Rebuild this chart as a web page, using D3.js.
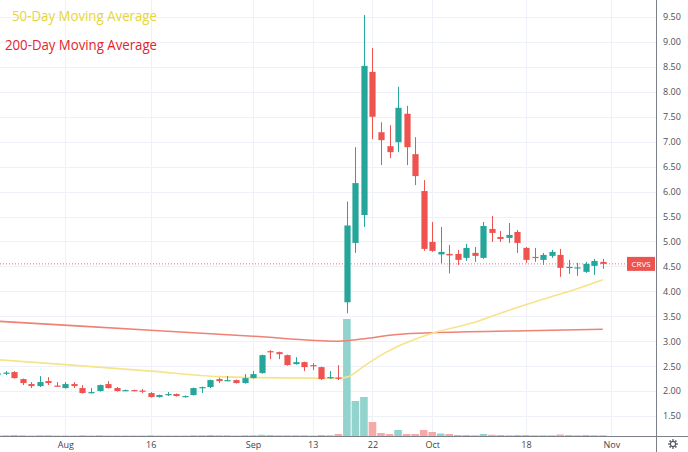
<!DOCTYPE html>
<html>
<head>
<meta charset="utf-8">
<script src="https://cdn.jsdelivr.net/npm/d3@7"></script>
<style>
  body { margin: 0; background: #fff; }
  svg { display: block; font-family: "Open Sans", sans-serif; }
</style>
</head>
<body>
<svg id="chart" width="688" height="452"></svg>
<script>
// trading days shown (Jul 21 .. Oct 29, 2021)
const dates = [
  "2021-07-21", "2021-07-22", "2021-07-23", "2021-07-26", "2021-07-27", "2021-07-28", "2021-07-29", "2021-07-30",
  "2021-08-02", "2021-08-03", "2021-08-04", "2021-08-05", "2021-08-06", "2021-08-09", "2021-08-10", "2021-08-11",
  "2021-08-12", "2021-08-13", "2021-08-16", "2021-08-17", "2021-08-18", "2021-08-19", "2021-08-20", "2021-08-23",
  "2021-08-24", "2021-08-25", "2021-08-26", "2021-08-27", "2021-08-30", "2021-08-31", "2021-09-01", "2021-09-02",
  "2021-09-03", "2021-09-07", "2021-09-08", "2021-09-09", "2021-09-10", "2021-09-13", "2021-09-14", "2021-09-15",
  "2021-09-16", "2021-09-17", "2021-09-20", "2021-09-21", "2021-09-22", "2021-09-23", "2021-09-24", "2021-09-27",
  "2021-09-28", "2021-09-29", "2021-09-30", "2021-10-01", "2021-10-04", "2021-10-05", "2021-10-06", "2021-10-07",
  "2021-10-08", "2021-10-11", "2021-10-12", "2021-10-13", "2021-10-14", "2021-10-15", "2021-10-18", "2021-10-19",
  "2021-10-20", "2021-10-21", "2021-10-22", "2021-10-25", "2021-10-26", "2021-10-27", "2021-10-28", "2021-10-29"
];

const opens = [
  2.32, 2.35, 2.38, 2.24, 2.14, 2.10, 2.20, 2.11, 2.06, 2.14, 2.06, 1.96, 2.00, 2.14, 2.06, 2.01,
  2.02, 2.01, 1.96, 1.88, 1.93, 1.94, 1.88, 1.92, 2.06, 2.08, 2.24, 2.21, 2.22, 2.16, 2.26, 2.36,
  2.80, 2.78, 2.72, 2.54, 2.58, 2.52, 2.48, 2.26, 2.27, 3.78, 4.97, 5.53, 8.40, 7.19, 6.91, 6.99,
  7.56, 6.75, 6.01, 4.99, 4.74, 4.75, 4.75, 4.67, 4.77, 4.67, 5.25, 5.09, 5.07, 5.19, 4.87, 4.69,
  4.63, 4.71, 4.73, 4.47, 4.46, 4.39, 4.51, 4.59
];
const highs = [
  2.38, 2.40, 2.40, 2.25, 2.18, 2.30, 2.28, 2.18, 2.18, 2.18, 2.12, 2.06, 2.13, 2.20, 2.08, 2.03,
  2.03, 2.04, 1.98, 1.93, 1.98, 1.95, 1.91, 2.07, 2.09, 2.23, 2.27, 2.30, 2.23, 2.34, 2.40, 2.73,
  2.82, 2.79, 2.73, 2.68, 2.59, 2.56, 2.49, 2.40, 2.52, 5.80, 6.89, 9.54, 8.88, 7.39, 7.33, 8.10,
  7.72, 7.09, 6.23, 5.39, 5.29, 4.93, 4.83, 4.95, 4.89, 5.39, 5.51, 5.21, 5.37, 5.23, 4.89, 4.87,
  4.77, 4.83, 4.85, 4.63, 4.57, 4.59, 4.65, 4.65
];
const lows = [
  2.30, 2.32, 2.25, 2.12, 2.06, 2.08, 2.12, 2.09, 2.05, 2.06, 1.95, 1.95, 1.99, 2.05, 1.99, 2.00,
  2.00, 1.96, 1.87, 1.87, 1.90, 1.89, 1.87, 1.91, 1.96, 2.06, 2.16, 2.20, 2.15, 2.15, 2.25, 2.35,
  2.64, 2.64, 2.51, 2.53, 2.40, 2.42, 2.22, 2.25, 2.22, 3.56, 4.77, 5.29, 7.05, 6.53, 6.67, 6.79,
  6.53, 6.13, 4.81, 4.79, 4.56, 4.36, 4.53, 4.61, 4.59, 4.65, 4.99, 4.99, 4.97, 4.77, 4.57, 4.59,
  4.53, 4.67, 4.29, 4.35, 4.31, 4.37, 4.33, 4.45
];
const closes = [
  2.36, 2.37, 2.26, 2.16, 2.10, 2.18, 2.16, 2.10, 2.14, 2.10, 1.96, 1.98, 2.12, 2.06, 2.00, 2.02,
  2.01, 1.99, 1.88, 1.92, 1.94, 1.90, 1.90, 2.06, 2.08, 2.22, 2.20, 2.22, 2.16, 2.26, 2.34, 2.72,
  2.78, 2.74, 2.52, 2.58, 2.48, 2.50, 2.24, 2.28, 2.25, 5.32, 6.17, 8.52, 7.50, 7.03, 6.79, 7.68,
  6.89, 6.31, 4.85, 4.81, 4.79, 4.72, 4.63, 4.87, 4.71, 5.31, 5.17, 5.05, 5.13, 4.97, 4.63, 4.67,
  4.73, 4.79, 4.47, 4.49, 4.48, 4.55, 4.61, 4.55
];
// volume, millions of shares
const volumes = [
  0.3, 0.3, 0.4, 0.3, 0.2, 0.3, 0.3, 0.2, 0.2, 0.2, 0.3, 0.2, 0.3, 0.2, 0.2, 0.2,
  0.2, 0.2, 0.3, 0.2, 0.2, 0.2, 0.2, 0.3, 0.3, 0.4, 0.3, 0.3, 0.2, 0.3, 0.3, 0.5,
  0.4, 0.3, 0.3, 0.3, 0.3, 0.2, 0.4, 0.3, 0.8, 46.8, 14.0, 15.6, 5.6, 1.2, 0.8, 2.4,
  0.8, 0.8, 2.4, 1.6, 1.0, 0.8, 0.4, 0.4, 0.3, 0.8, 0.5, 0.4, 0.3, 0.4, 0.4, 0.3,
  0.3, 0.3, 0.6, 0.4, 0.3, 0.4, 0.3, 0.3
];

// moving averages, read at sample days
const ma50Dates = ["2021-07-21", "2021-08-02", "2021-08-16", "2021-08-26", "2021-09-01", "2021-09-13", "2021-09-16",
  "2021-09-17", "2021-09-21", "2021-09-23", "2021-09-27", "2021-09-29", "2021-10-01", "2021-10-08", "2021-10-14",
  "2021-10-20", "2021-10-26", "2021-10-29"];
const ma50Values = [2.63, 2.53, 2.40, 2.29, 2.27, 2.26, 2.26, 2.28, 2.50, 2.72, 2.90, 3.04, 3.16, 3.38, 3.62, 3.84, 4.05, 4.23];
const ma200Dates = ["2021-07-21", "2021-08-16", "2021-09-01", "2021-09-16", "2021-09-17", "2021-09-20", "2021-09-22",
  "2021-09-24", "2021-09-28", "2021-10-01", "2021-10-18", "2021-10-29"];
const ma200Values = [3.40, 3.22, 3.10, 3.00, 3.01, 3.03, 3.07, 3.12, 3.15, 3.17, 3.21, 3.24];

const priceTicks = [1.5, 2, 2.5, 3, 3.5, 4, 4.5, 5, 5.5, 6, 6.5, 7, 7.5, 8, 8.5, 9, 9.5];
const timeTickDates = ["2021-08-02", "2021-08-16", "2021-09-01", "2021-09-13", "2021-09-22", "2021-10-01", "2021-10-18", "2021-11-01"];
const timeTickLabels = ["Aug", "16", "Sep", "13", "22", "Oct", "18", "Nov"];
const symbol = "CRVS";

const up = "#26a69a", down = "#ef5350";
const upVol = "#92d3cd", downVol = "#f7a9a7";

const svg = d3.select("#chart");
const W = 688, H = 452, plotR = 656, plotB = 436;

// index of a day on the time scale; Nov 1 is the next session after the last bar
const idx = d => { const i = dates.indexOf(d); return i < 0 ? dates.length : i; };

const x = d3.scaleLinear().domain([0, dates.length]).range([-2.84, 611.3]);
const y = d3.scaleLinear().domain([1.5, 9.5]).range([416, 17]);
const yVol = d3.scaleLinear().domain([0, d3.max(volumes)]).range([plotB, 319]);

const bars = dates.map((d, i) => ({
  i, o: opens[i], h: highs[i], l: lows[i], c: closes[i], v: volumes[i]
}));

svg.append("rect").attr("width", W).attr("height", H).attr("fill", "#fff");

const plot = svg.append("g");
plot.append("clipPath").attr("id", "clip")
  .append("rect").attr("width", plotR).attr("height", plotB);

// grid
const grid = plot.append("g").attr("stroke", "#eef1f7").attr("stroke-width", 1);
grid.selectAll("line.h").data(priceTicks).join("line")
  .attr("class", "h")
  .attr("x1", 0).attr("x2", plotR)
  .attr("y1", d => Math.round(y(d)) + 0.5).attr("y2", d => Math.round(y(d)) + 0.5);
grid.selectAll("line.v").data(timeTickDates).join("line")
  .attr("class", "v")
  .attr("y1", 0).attr("y2", plotB)
  .attr("x1", d => Math.round(x(idx(d))) + 0.5).attr("x2", d => Math.round(x(idx(d))) + 0.5);

const body = plot.append("g").attr("clip-path", "url(#clip)");

// volume
const bw = 7.6;
body.append("g").selectAll("rect").data(bars).join("rect")
  .attr("x", d => x(d.i) - bw / 2)
  .attr("width", bw)
  .attr("y", d => yVol(d.v))
  .attr("height", d => plotB - yVol(d.v))
  .attr("fill", d => d.c >= d.o ? upVol : downVol);

// moving averages
const line = d3.line().curve(d3.curveMonotoneX);
body.append("path")
  .attr("d", line(ma200Dates.map((d, k) => [x(idx(d)), y(ma200Values[k])])))
  .attr("fill", "none").attr("stroke", "#ee8275").attr("stroke-width", 1.6);
body.append("path")
  .attr("d", line(ma50Dates.map((d, k) => [x(idx(d)), y(ma50Values[k])])))
  .attr("fill", "none").attr("stroke", "#f7e38a").attr("stroke-width", 1.6);

// last price line
const last = closes[closes.length - 1];
body.append("line")
  .attr("x1", 0).attr("x2", plotR)
  .attr("y1", y(last)).attr("y2", y(last))
  .attr("stroke", down).attr("stroke-width", 1).attr("stroke-dasharray", "1,2").attr("opacity", 0.8);

// candles
const cw = 6.2;
const candle = body.append("g").selectAll("g").data(bars).join("g")
  .attr("fill", d => d.c >= d.o ? up : down)
  .attr("stroke", d => d.c >= d.o ? up : down);
candle.append("line")
  .attr("x1", d => Math.round(x(d.i)) + 0.5).attr("x2", d => Math.round(x(d.i)) + 0.5)
  .attr("y1", d => y(d.h)).attr("y2", d => y(d.l))
  .attr("stroke-width", 1);
candle.append("rect")
  .attr("x", d => Math.round(x(d.i)) + 0.5 - cw / 2)
  .attr("width", cw)
  .attr("y", d => y(Math.max(d.o, d.c)))
  .attr("height", d => Math.max(1.2, Math.abs(y(d.o) - y(d.c))))
  .attr("stroke", "none");

// symbol label
const lab = svg.append("g").attr("transform", `translate(627,${y(last)})`);
lab.append("rect").attr("x", 0).attr("y", -7).attr("width", 28).attr("height", 14).attr("fill", down);
lab.append("text").attr("x", 14).attr("dy", "0.35em").attr("text-anchor", "middle")
  .attr("fill", "#fff").attr("font-size", 8).text(symbol);

// axes
const yAxis = d3.axisRight(y).tickValues(priceTicks).tickSize(0).tickPadding(7).tickFormat(d3.format(".2f"));
svg.append("g").attr("transform", `translate(${plotR},0)`).call(yAxis)
  .call(g => g.select(".domain").remove())
  .call(g => g.selectAll("text").attr("fill", "#4a4f5a").attr("font-size", 9).attr("font-family", "Open Sans, sans-serif"));

const xAxis = d3.axisBottom(x).tickValues(timeTickDates.map(idx)).tickSize(0).tickPadding(6)
  .tickFormat((d, k) => timeTickLabels[k]);
svg.append("g").attr("transform", `translate(0,${plotB})`).call(xAxis)
  .call(g => g.select(".domain").remove())
  .call(g => g.selectAll("text").attr("fill", "#3f444e").attr("font-size", 9).attr("font-family", "Open Sans, sans-serif"));

svg.append("line").attr("x1", plotR + 0.5).attr("x2", plotR + 0.5).attr("y1", 0).attr("y2", H)
  .attr("stroke", "#7b7f88").attr("stroke-width", 1);
svg.append("line").attr("x1", 0).attr("x2", W).attr("y1", plotB + 0.5).attr("y2", plotB + 0.5)
  .attr("stroke", "#7b7f88").attr("stroke-width", 1);

// settings gear
const gear = svg.append("g").attr("transform", "translate(673,444)")
  .attr("stroke", "#50535e").attr("fill", "none");
gear.append("circle").attr("r", 2.6).attr("stroke-width", 1.2);
gear.selectAll("line").data(d3.range(8)).join("line")
  .attr("x1", d => 3.2 * Math.cos(d * Math.PI / 4)).attr("y1", d => 3.2 * Math.sin(d * Math.PI / 4))
  .attr("x2", d => 4.8 * Math.cos(d * Math.PI / 4)).attr("y2", d => 4.8 * Math.sin(d * Math.PI / 4))
  .attr("stroke-width", 1.6);

// legend
svg.append("text").attr("x", 12).attr("y", 21).attr("font-size", 14)
  .attr("fill", "#e6d53c").attr("textLength", 145).attr("lengthAdjust", "spacingAndGlyphs")
  .text("50-Day Moving Average");
svg.append("text").attr("x", 5).attr("y", 50).attr("font-size", 14.5)
  .attr("fill", "#e3252b").attr("textLength", 152).attr("lengthAdjust", "spacingAndGlyphs")
  .text("200-Day Moving Average");
</script>
</body>
</html>
